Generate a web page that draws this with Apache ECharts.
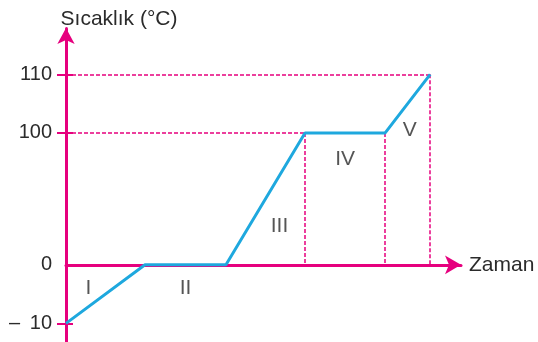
<!DOCTYPE html>
<html>
<head>
<meta charset="utf-8">
<script src="https://cdn.jsdelivr.net/npm/echarts@6/dist/echarts.min.js"></script>
<style>
  html, body { margin: 0; padding: 0; background: #fff; }
  #chart { width: 538px; height: 342px; }
</style>
</head>
<body>
<div id="chart"></div>
<script>
// heating curve: time (arbitrary units) vs temperature
var times = [0, 10, 20.25, 30.25, 40.4, 46.1]
var temps = [-10, 0, 0, 100, 100, 110]
var phases = ['I', 'II', 'III', 'IV', 'V']
var yTickValues = [-10, 0, 100, 110]
var yTickLabels = ['–\u2009 10', '0', '100', '110']

var pink = '#e6007e'
var blue = '#1ea8de'
var textColor = '#2b2b2b'

var yMin = -13
var yMax = 117.9

var chart = echarts.init(document.getElementById('chart'))

var points = times.map(function (t, i) { return [t, temps[i]] })

// phase label sits near the middle of each segment
var labelOffsets = [[-17, -6], [0, 23], [14, 27], [0, 26], [2, 27]]
var phaseData = phases.map(function (p, i) {
  return {
    name: p,
    value: [(times[i] + times[i + 1]) / 2, (temps[i] + temps[i + 1]) / 2],
    label: { offset: labelOffsets[i] }
  }
})

var last = times.length - 1
var guideLines = [
  [{ coord: [0, temps[last]] }, { coord: [times[last], temps[last]] }],
  [{ coord: [0, temps[3]] }, { coord: [times[3], temps[3]] }],
  [{ coord: [times[3], temps[3]] }, { coord: [times[3], 0] }],
  [{ coord: [times[4], temps[4]] }, { coord: [times[4], 0] }],
  [{ coord: [times[last], temps[last]] }, { coord: [times[last], 0] }]
]

var yBreaks = [{ start: 0, end: 100, gap: 22.5 }]

var option = {
  animation: false,
  grid: { left: 66, right: 77, top: 28, bottom: 1, outerBoundsMode: 'none' },
  xAxis: {
    type: 'value',
    min: 0,
    max: 50,
    name: 'Zaman',
    nameGap: 8,
    nameTextStyle: { color: textColor, fontSize: 21, fontFamily: 'Liberation Sans' },
    axisLine: {
      onZero: true,
      lineStyle: { color: pink, width: 3 },
      symbol: ['none', 'arrow'],
      symbolSize: [14, 16]
    },
    axisTick: { show: false },
    axisLabel: { show: false },
    splitLine: { show: false }
  },
  yAxis: [
    {
      type: 'value',
      min: yMin,
      max: yMax,
      breaks: yBreaks,
      breakArea: { show: false, itemStyle: { opacity: 0 } },
      name: 'Sıcaklık (°C)',
      nameGap: -2,
      nameTextStyle: {
        color: textColor, fontSize: 21, fontFamily: 'Liberation Sans',
        align: 'center', padding: [0, 0, 0, 106]
      },
      axisLine: {
        onZero: false,
        lineStyle: { color: pink, width: 3 },
        symbol: ['none', 'arrow'],
        symbolSize: [13, 16]
      },
      axisTick: {
        customValues: [-10, 100, 110],
        length: 9,
        lineStyle: { color: pink, width: 2 }
      },
      axisLabel: {
        customValues: yTickValues,
        margin: 14,
        color: textColor,
        fontSize: 20,
        fontFamily: 'Liberation Sans',
        formatter: function (v) {
          var i = yTickValues.indexOf(v)
          return i >= 0 ? yTickLabels[i] : ''
        }
      },
      splitLine: { show: false }
    },
    {
      type: 'value',
      min: yMin,
      max: yMax,
      breaks: yBreaks,
      breakArea: { show: false, itemStyle: { opacity: 0 } },
      position: 'left',
      axisLine: { show: false },
      axisTick: {
        inside: true,
        customValues: [-10, 100, 110],
        length: 7,
        lineStyle: { color: pink, width: 2 }
      },
      axisLabel: { show: false },
      splitLine: { show: false }
    }
  ],
  series: [
    {
      type: 'line',
      data: points,
      showSymbol: false,
      z: 5,
      lineStyle: { color: blue, width: 3 },
      markLine: {
        silent: true,
        symbol: 'none',
        label: { show: false },
        lineStyle: { color: pink, width: 1.5, type: [4, 2] },
        data: guideLines
      }
    },
    {
      type: 'scatter',
      data: phaseData,
      symbolSize: 0,
      silent: true,
      label: {
        show: true,
        position: 'inside',
        formatter: '{b}',
        color: textColor,
        fontSize: 21,
        fontFamily: 'Liberation Sans'
      },
      // the axis break leaves a hole in the y axis line, close it
      markLine: {
        silent: true,
        symbol: 'none',
        label: { show: false },
        lineStyle: { color: pink, width: 3, type: 'solid' },
        data: [[{ coord: [0, temps[1]] }, { coord: [0, temps[3]] }]]
      }
    }
  ]
}

chart.setOption(option)
</script>
</body>
</html>
